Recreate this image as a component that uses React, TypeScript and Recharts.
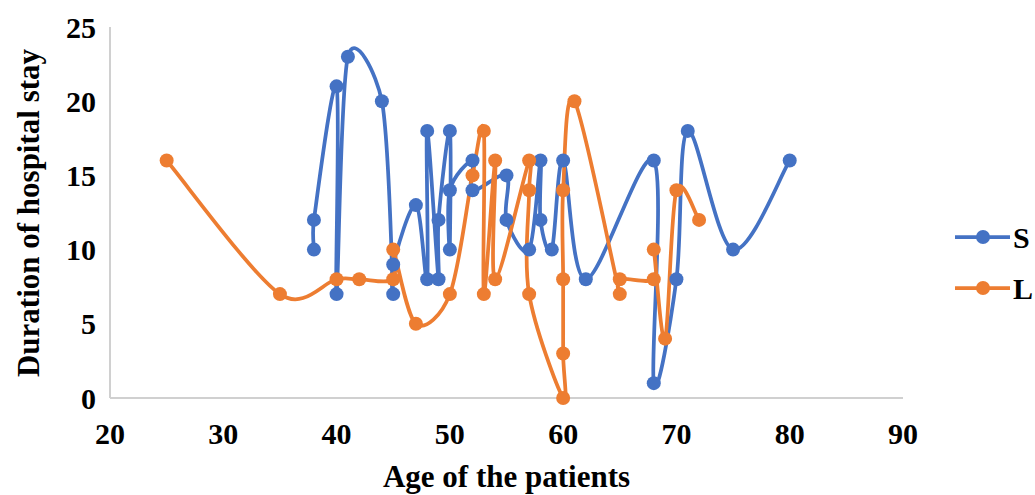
import React from "react";
import { Label, Legend, Line, LineChart, XAxis, YAxis } from "recharts";

// S series (age, stay) in plotting order
const ageS = [38, 38, 40, 40, 41, 44, 45, 45, 47, 48, 48, 49, 49, 50, 50, 50, 52, 52, 55, 55, 57, 58, 58, 59, 60, 62, 68, 68, 70, 71, 75, 80];
const stayS = [10, 12, 21, 7, 23, 20, 7, 9, 13, 8, 18, 8, 12, 18, 10, 14, 16, 14, 15, 12, 10, 16, 12, 10, 16, 8, 16, 1, 8, 18, 10, 16];

// L series
const ageL = [25, 35, 40, 42, 45, 45, 47, 50, 52, 53, 53, 54, 54, 57, 57, 57, 60, 60, 60, 60, 61, 65, 65, 68, 68, 69, 70, 72];
const stayL = [16, 7, 8, 8, 8, 10, 5, 7, 15, 18, 7, 16, 8, 16, 14, 7, 0, 3, 8, 14, 20, 7, 8, 8, 10, 4, 14, 12];

const xTicks = [20, 30, 40, 50, 60, 70, 80, 90];
const yTicks = [0, 5, 10, 15, 20, 25];

const BLUE = "#4472C4";
const ORANGE = "#ED7D31";
const FONT = '"Liberation Serif", "Times New Roman", serif';

const dataS = ageS.map((age, i) => ({ age, stay: stayS[i] }));
const dataL = ageL.map((age, i) => ({ age, stay: stayL[i] }));

const dist = (a: number[], b: number[]) => Math.hypot(a[0] - b[0], a[1] - b[1]);

// Excel-like smoothing: bezier with 1/6 tangents, capped at half the segment length
function smoothCurve(context: any) {
  let pts: [number, number][] = [];
  return {
    areaStart() {},
    areaEnd() {},
    lineStart() {
      pts = [];
    },
    lineEnd() {
      const n = pts.length;
      if (!n) return;
      context.moveTo(pts[0][0], pts[0][1]);
      for (let i = 0; i < n - 1; i++) {
        const p0 = pts[i - 1] || pts[i];
        const p1 = pts[i];
        const p2 = pts[i + 1];
        const p3 = pts[i + 2] || p2;
        const d12 = dist(p1, p2);
        const d02 = dist(p0, p2);
        const d13 = dist(p1, p3);
        const f1 = d02 / 6 < d12 / 2 ? 1 / 6 : d12 / (2 * d02 || 1);
        const f2 = d13 / 6 < d12 / 2 ? 1 / 6 : d12 / (2 * d13 || 1);
        context.bezierCurveTo(
          p1[0] + (p2[0] - p0[0]) * f1,
          p1[1] + (p2[1] - p0[1]) * f1,
          p2[0] - (p3[0] - p1[0]) * f2,
          p2[1] - (p3[1] - p1[1]) * f2,
          p2[0],
          p2[1]
        );
      }
    },
    point(x: number, y: number) {
      pts.push([x, y]);
    },
  };
}

const tickStyle = { fontFamily: FONT, fontWeight: 700, fontSize: 30, fill: "#000" };

function LegendBox() {
  const items = [
    { name: "S", color: BLUE },
    { name: "L", color: ORANGE },
  ];
  return (
    <svg width={85} height={90}>
      {items.map((it, i) => (
        <g key={it.name} transform={`translate(0, ${17 + i * 51})`}>
          <line x1={5} x2={60} y1={0} y2={0} stroke={it.color} strokeWidth={3.75} />
          <circle cx={33} cy={0} r={7} fill={it.color} />
          <text x={63} y={0} dy="0.35em" fontFamily={FONT} fontWeight={700} fontSize={30} fill="#000">
            {it.name}
          </text>
        </g>
      ))}
    </svg>
  );
}

export default function App() {
  return (
    <div style={{ position: "absolute", left: 0, top: 0, width: 1035, height: 495, background: "#fff" }}>
      <LineChart width={1035} height={495} margin={{ top: 27, right: 132, bottom: 0, left: 0 }}>
        <XAxis
          type="number"
          dataKey="age"
          domain={[20, 90]}
          ticks={xTicks}
          allowDataOverflow
          height={97}
          tickSize={0}
          tickMargin={25}
          tick={tickStyle}
          axisLine={{ stroke: "#D0D0D0", strokeWidth: 2 }}
          tickLine={false}
        >
          <Label
            value="Age of the patients"
            position="insideBottom"
            offset={8}
            style={{ fontFamily: FONT, fontWeight: 700, fontSize: 31, fill: "#000" }}
          />
        </XAxis>
        <YAxis
          type="number"
          dataKey="stay"
          domain={[0, 25]}
          ticks={yTicks}
          width={110}
          tickSize={0}
          tickMargin={14}
          tick={tickStyle}
          axisLine={{ stroke: "#D0D0D0", strokeWidth: 2 }}
          tickLine={false}
        >
          <Label
            content={() => (
              <text
                x={28}
                y={213}
                transform="rotate(-90 28 213)"
                textAnchor="middle"
                dominantBaseline="central"
                fontFamily={FONT}
                fontWeight={700}
                fontSize={31}
                fill="#000"
              >
                Duration of hospital stay
              </text>
            )}
          />
        </YAxis>
        <Legend
          layout="vertical"
          align="center"
          verticalAlign="middle"
          wrapperStyle={{ left: 950, top: 220, width: 85 }}
          content={() => <LegendBox />}
        />
        <Line
          data={dataS}
          dataKey="stay"
          name="S"
          type={smoothCurve as any}
          stroke={BLUE}
          strokeWidth={3.75}
          dot={{ r: 7, fill: BLUE, stroke: BLUE, strokeWidth: 0 }}
          activeDot={false}
          isAnimationActive={false}
        />
        <Line
          data={dataL}
          dataKey="stay"
          name="L"
          type={smoothCurve as any}
          stroke={ORANGE}
          strokeWidth={3.75}
          dot={{ r: 7, fill: ORANGE, stroke: ORANGE, strokeWidth: 0 }}
          activeDot={false}
          isAnimationActive={false}
        />
      </LineChart>
    </div>
  );
}
